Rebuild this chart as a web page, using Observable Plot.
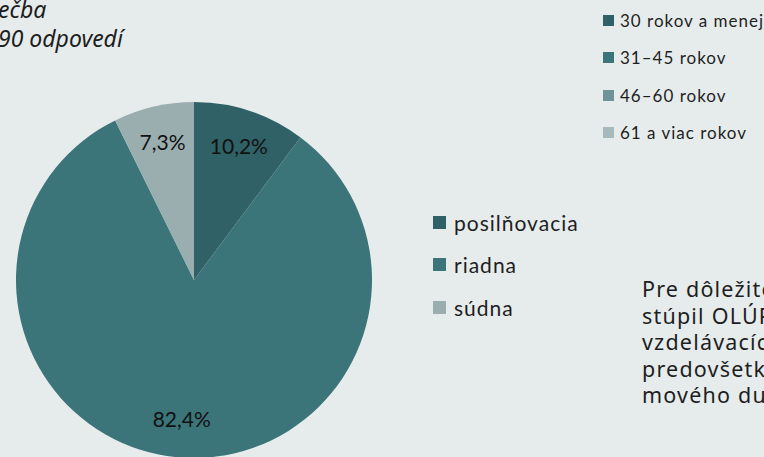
<!DOCTYPE html>
<html>
<head>
<meta charset="utf-8">
<script src="https://cdn.jsdelivr.net/npm/d3@7"></script>
<script src="https://cdn.jsdelivr.net/npm/@observablehq/plot@0.6"></script>
<style>
  html, body { margin: 0; padding: 0; background: #e6ecec; overflow: hidden; }
  #wrap { position: relative; width: 764px; height: 457px; overflow: hidden; background: #e6ecec; }
  #chart { position: absolute; left: 0; top: 0; }
  .title { position: absolute; left: -2px; font-family: "Noto Sans", sans-serif; font-style: italic; font-size: 23px; color: #1e1e1e; white-space: nowrap; line-height: 1; }
  .leg { position: absolute; font-family: Lato, sans-serif; color: #1e1e1e; white-space: nowrap; display: flex; align-items: center; }
  .leg .sw { display: inline-block; }
  .para { position: absolute; left: 642px; font-family: "Noto Sans", sans-serif; font-size: 21.5px; line-height: 1; color: #1e1e1e; white-space: nowrap; letter-spacing: 1.2px; }
</style>
</head>
<body>
<div id="wrap"></div>
<script>
// ---- data ----
const categories = ["posilňovacia", "riadna", "súdna"];
const shares = [10.2, 82.4, 7.3];
const labels = ["10,2%", "82,4%", "7,3%"];
const colors = ["#2f6166", "#3b7479", "#9aaeb0"];
const ageGroups = ["30 rokov a menej", "31–45 rokov", "46–60 rokov", "61 a viac rokov"];
const ageColors = ["#2f6166", "#3b7479", "#6f9396", "#a6b9bb"];
const titleLines = ["ečba", "90 odpovedí"];
const paragraphLines = ["Pre dôležitosť", "stúpil OLÚP", "vzdelávacích", "predovšetkým", "mového duchu"];

const table = categories.map((c, i) => ({category: c, share: shares[i], label: labels[i]}));
const pie = d3.pie().sort(null).value(d => d.share)(table);
const slices = pie.map(p => ({...p.data, startAngle: p.startAngle, endAngle: p.endAngle, mid: (p.startAngle + p.endAngle) / 2}));

// custom pie mark drawn through Plot's x / y / color scales
function pieMark(data) {
  return (index, scales) => {
    const cx = scales.x(0), cy = scales.y(0);
    const r = Math.abs(scales.x(1) - scales.x(0));
    const arc = d3.arc().innerRadius(0).outerRadius(r);
    const g = d3.create("svg:g").attr("transform", `translate(${cx},${cy})`);
    g.selectAll("path").data(data).join("path")
      .attr("d", d => arc(d))
      .attr("fill", d => scales.color(d.category));
    return g.node();
  };
}

const labelR = 0.79;
const plot = Plot.plot({
  width: 764,
  height: 457,
  margin: 0,
  style: {background: "transparent", overflow: "visible"},
  x: {domain: [-1, 1], range: [16, 372], axis: null},
  y: {domain: [1, -1], range: [102, 458], axis: null},
  color: {domain: categories, range: colors},
  marks: [
    pieMark(slices),
    Plot.text(slices, {
      x: d => labelR * Math.sin(d.mid),
      y: d => labelR * Math.cos(d.mid),
      text: "label",
      fontFamily: "Lato, sans-serif",
      fontSize: 21,
      fill: "#111",
      style: "letter-spacing:0.5px"
    })
  ]
});
plot.id = "chart";
const wrap = document.getElementById("wrap");
wrap.appendChild(plot);

// title fragments (cut off at the left edge)
titleLines.forEach((t, i) => {
  const d = document.createElement("div");
  d.className = "title";
  d.style.top = (i === 0 ? -2 : 27) + "px";
  d.textContent = t;
  wrap.appendChild(d);
});

// age legend (top right)
ageGroups.forEach((t, i) => {
  const d = document.createElement("div");
  d.className = "leg";
  d.style.left = "603px";
  d.style.top = (10 + i * 37.5) + "px";
  d.style.height = "20px";
  d.style.fontSize = "17px";
  d.style.letterSpacing = "1px";
  d.innerHTML = `<span class="sw" style="width:11px;height:11px;background:${ageColors[i]};margin-right:6px"></span><span>${t}</span>`;
  wrap.appendChild(d);
});

// category legend (middle)
categories.forEach((t, i) => {
  const d = document.createElement("div");
  d.className = "leg";
  d.style.left = "433px";
  d.style.top = (209 + i * 42.5) + "px";
  d.style.height = "26px";
  d.style.fontSize = "21px";
  d.style.letterSpacing = "1px";
  d.innerHTML = `<span class="sw" style="width:13px;height:13px;background:${colors[i]};margin-right:8px"></span><span>${t}</span>`;
  wrap.appendChild(d);
});

// paragraph (cut off at the right edge, as in the reference)
paragraphLines.forEach((t, i) => {
  const d = document.createElement("div");
  d.className = "para";
  d.style.top = (278 + i * 26.5) + "px";
  d.textContent = t;
  wrap.appendChild(d);
});
</script>
</body>
</html>
